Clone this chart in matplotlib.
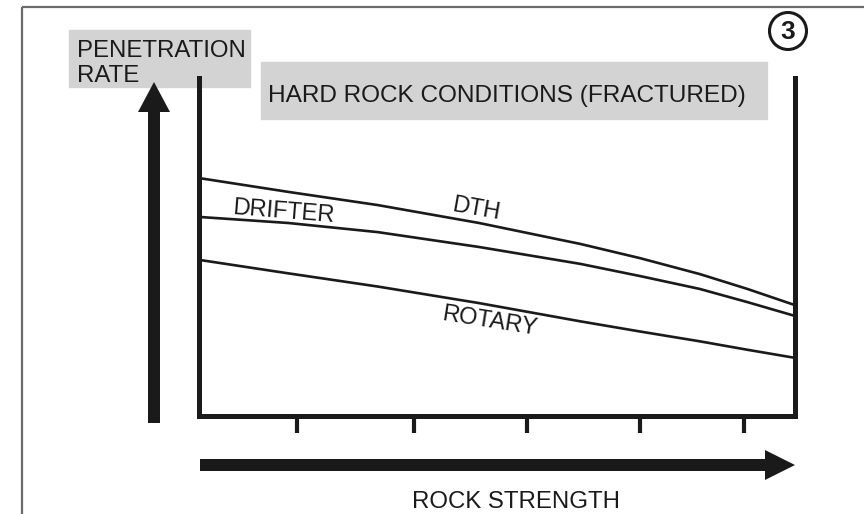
import matplotlib
matplotlib.use("Agg")
import matplotlib.pyplot as plt
from matplotlib.patches import Rectangle, FancyArrow, Circle

plt.rcParams['font.family'] = ['Liberation Sans', 'DejaVu Sans']

# ---- data (schematic: rock strength vs penetration rate, 0-100 scale) ----
rock_strength = [0, 15, 30, 47, 64, 74, 84, 92, 100]
dth = [70.4, 66.3, 62.4, 57.1, 50.9, 46.7, 42.0, 37.6, 32.8]
drifter = [58.9, 57.1, 54.4, 50.0, 45.0, 41.4, 37.6, 33.7, 29.6]
rotary = [46.2, 42.2, 38.3, 33.4, 28.0, 25.0, 22.1, 19.6, 17.2]
tick_positions = [16.5, 36, 55, 74, 91.5]

title_text = "HARD ROCK CONDITIONS (FRACTURED)"
x_label = "ROCK STRENGTH"
panel_no = "3"

W, H = 864, 514
fig = plt.figure(figsize=(W / 100, H / 100), dpi=100)

ov = fig.add_axes([0, 0, 1, 1])
ov.set_xlim(0, W)
ov.set_ylim(H, 0)
ov.axis('off')

dark = '#1a1a1a'
ov.plot([22, W], [7, 7], color='#6a6a6a', lw=1.6, solid_capstyle='butt')
ov.plot([22, 22], [7, H], color='#6a6a6a', lw=1.6, solid_capstyle='butt')

ov.add_patch(Rectangle((69, 30), 181, 57, color='#d3d3d3', zorder=1))
ov.add_patch(Rectangle((261, 62), 506, 57, color='#d3d3d3', zorder=1))
ov.text(77, 57, "PENETRATION", fontsize=17.3, color=dark, ha='left', va='baseline', zorder=2)
ov.text(77, 82, "RATE", fontsize=17.3, color=dark, ha='left', va='baseline', zorder=2)
ov.text(268, 102, title_text, fontsize=17.6, color=dark, ha='left', va='baseline', zorder=2)

ov.add_patch(FancyArrow(154, 423, 0, -341, width=12, head_width=32, head_length=30,
                        length_includes_head=True, color=dark, lw=0, zorder=3))
ov.add_patch(FancyArrow(200, 465, 595, 0, width=12, head_width=30, head_length=30,
                        length_includes_head=True, color=dark, lw=0, zorder=3))
ov.text(516, 508, x_label, fontsize=17.3, color=dark, ha='center', va='baseline')

ov.add_patch(Circle((788, 31), 18.5, fill=False, ec=dark, lw=2.2))
ov.text(788, 32, panel_no, fontsize=19, fontweight='bold', color=dark, ha='center', va='center')

ax = fig.add_axes([199 / W, (H - 416) / H, 596 / W, (416 - 78) / H])
ax.patch.set_alpha(0)
ax.set_xlim(0, 100)
ax.set_ylim(0, 100)
for s in ['left', 'right', 'bottom']:
    ax.spines[s].set_linewidth(3.6)
    ax.spines[s].set_color(dark)
ax.spines['top'].set_visible(False)
ax.set_xticks(tick_positions)
ax.set_yticks([])
ax.tick_params(axis='x', direction='out', length=12.2, width=3, color=dark, labelbottom=False)

for series in (dth, drifter, rotary):
    ax.plot(rock_strength, series, color=dark, lw=1.9, solid_capstyle='butt', solid_joinstyle='round')

ov.text(283, 212, "DRIFTER", fontsize=17, color=dark, rotation=-4.6, ha='center', va='center', rotation_mode='anchor')
ov.text(476, 209, "DTH", fontsize=17, color=dark, rotation=-10, ha='center', va='center', rotation_mode='anchor')
ov.text(490, 322, "ROTARY", fontsize=17, color=dark, rotation=-9, ha='center', va='center', rotation_mode='anchor')

fig.savefig("out.png", dpi=100)
